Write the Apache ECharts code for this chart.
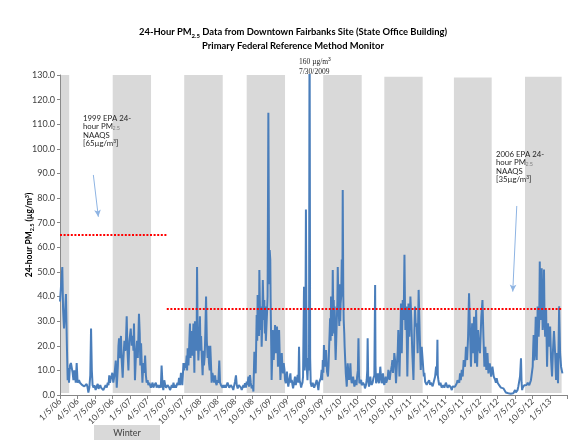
<!DOCTYPE html>
<html>
<head>
<meta charset="utf-8">
<title>Fairbanks PM2.5</title>
<script src="https://cdn.jsdelivr.net/npm/echarts@6/dist/echarts.min.js"></script>
<style>
  html, body { margin: 0; padding: 0; background: #fff; }
  #chart { width: 586px; height: 441px; }
</style>
</head>
<body>
<div id="chart"></div>
<script>
// x values are days counted from 1/5/06 (first sample)
const QUARTER = 365.25 / 4;
const tickLabels = [
  '1/5/06', '4/5/06', '7/5/06', '10/5/06', '1/5/07', '4/5/07', '7/5/07', '10/5/07',
  '1/5/08', '4/5/08', '7/5/08', '10/5/08', '1/5/09', '4/5/09', '7/5/09', '10/5/09',
  '1/5/10', '4/5/10', '7/5/10', '10/5/10', '1/5/11', '4/5/11', '7/5/11', '10/5/11',
  '1/5/12', '4/5/12', '7/5/12', '10/5/12', '1/5/13'
];

// winter shading (day from / day to / top)
const winterFrom = [5, 275, 648, 974, 1373, 1692, 2055, 2426];
const winterTo = [48, 475, 849, 1174, 1574, 1892, 2252, 2617];
const winterTop = [130, 130, 130, 130, 130, 129.3, 129, 129.3];

// NAAQS lines
const naaqsLevel = [65, 35];
const naaqsFrom = [0, 557];
const naaqsTo = [557, 2617];

// 24-hour PM2.5 samples (day, ug/m3)
const sampleDay = [
  0, 6, 12, 16, 21, 26, 31, 36, 40, 44, 47, 52, 57, 61, 66, 70, 75, 78, 82, 87, 92, 99, 104, 110, 116, 122, 127, 131, 139, 144,
  148, 153, 158, 162, 166, 170, 175, 179, 186, 191, 197, 201, 205, 210, 214, 220, 226, 232, 238, 244, 249, 253, 257, 261, 266, 270, 273, 278, 284, 291,
  296, 302, 305, 308, 312, 318, 322, 327, 331, 336, 340, 343, 348, 352, 357, 362, 365, 369, 374, 379, 383, 386, 391, 395, 398, 402, 406, 409, 412, 416,
  419, 423, 427, 430, 435, 440, 444, 448, 452, 457, 461, 466, 470, 474, 478, 483, 487, 492, 496, 500, 504, 509, 513, 518, 522, 526, 530, 535, 539, 544,
  549, 553, 557, 561, 565, 570, 574, 579, 583, 588, 592, 597, 601, 605, 609, 613, 617, 621, 626, 631, 634, 638, 641, 644, 648, 652, 656, 661, 663, 666,
  668, 670, 674, 678, 681, 684, 687, 690, 693, 696, 699, 701, 704, 707, 710, 713, 715, 718, 722, 726, 730, 733, 736, 740, 744, 748, 751, 755, 758, 762,
  766, 770, 773, 777, 781, 784, 788, 791, 795, 800, 804, 809, 813, 817, 821, 826, 831, 835, 840, 844, 848, 852, 856,
  861, 865, 870, 874, 878, 883, 887, 891, 896, 900, 904, 909, 913, 918, 922, 927, 933, 939, 944, 948, 952, 957, 961, 965, 970, 974, 978, 983, 986, 991,
  995, 1000, 1005, 1009, 1014, 1017, 1021, 1026, 1029, 1031, 1035, 1038, 1040, 1045, 1049, 1052, 1055, 1058, 1063, 1066, 1069, 1071, 1074, 1077, 1080, 1083, 1087, 1091, 1094, 1097,
  1099, 1102, 1104, 1107, 1110, 1113, 1115, 1119, 1122, 1125, 1127, 1132, 1135, 1137, 1140, 1143, 1147, 1150, 1154, 1157, 1161, 1164, 1167, 1171, 1174, 1178, 1181, 1184, 1188, 1191,
  1196, 1202, 1205, 1209, 1213, 1216, 1221, 1226, 1230, 1235, 1240, 1244, 1247, 1250, 1254, 1258, 1261, 1265, 1268, 1271, 1273, 1276, 1280, 1283, 1287, 1291, 1295, 1299, 1302, 1305,
  1308, 1313, 1318, 1322, 1326, 1331, 1335, 1339, 1344, 1348, 1352, 1357, 1361, 1365, 1368, 1371, 1374, 1377, 1380, 1383, 1388, 1393, 1398, 1401, 1404, 1407, 1409, 1412, 1414, 1417,
  1420, 1423, 1426, 1428, 1431, 1433, 1436, 1438, 1441, 1444, 1447, 1449, 1452, 1454, 1457, 1459, 1462, 1464, 1467, 1470, 1473, 1475, 1478, 1480, 1483, 1485, 1488, 1491, 1496, 1501,
  1505, 1508, 1512, 1515, 1518, 1522, 1526, 1529, 1533, 1536, 1540, 1543, 1547, 1550, 1554, 1557, 1560, 1562, 1567, 1571, 1574, 1577, 1581, 1584, 1588, 1591, 1596, 1600, 1603, 1605,
  1608, 1612, 1616, 1619, 1622, 1626, 1631, 1635, 1640, 1644, 1646, 1649, 1653, 1658, 1661, 1664, 1668, 1671, 1675, 1678, 1681, 1685, 1689, 1692, 1696, 1699, 1702, 1706, 1710, 1713,
  1717, 1720, 1724, 1727, 1731, 1734, 1737, 1739, 1742, 1744,
  1748, 1753, 1758, 1762, 1765, 1771, 1776, 1779, 1783, 1788, 1793, 1797, 1800, 1802, 1807, 1812, 1815, 1818, 1823, 1828, 1833, 1838, 1844, 1849, 1852, 1856, 1861, 1866, 1871, 1877,
  1882, 1887, 1892, 1898, 1901, 1905, 1909, 1913, 1918, 1922, 1926, 1931, 1935, 1939, 1944, 1948, 1953, 1957, 1962, 1966, 1969, 1971, 1974, 1978, 1981, 1985, 1988, 1991, 1995, 1999,
  2002, 2005, 2009, 2013, 2018, 2022, 2026, 2031, 2035, 2039, 2044, 2048, 2052, 2057, 2061, 2066, 2070, 2074, 2078, 2083, 2087, 2091, 2096, 2101, 2106, 2113, 2118, 2124, 2129, 2134,
  2139, 2144, 2150, 2155, 2160, 2165, 2171, 2176, 2181, 2186, 2191, 2198, 2204, 2209, 2214, 2219, 2224, 2230, 2235, 2242, 2249, 2256, 2263, 2270, 2274, 2278, 2283, 2287, 2291, 2296,
  2300, 2304, 2309, 2313, 2318, 2322, 2326, 2331, 2335, 2339, 2344, 2348, 2352, 2357, 2361, 2365, 2370, 2374, 2378, 2383, 2387, 2391, 2396, 2400, 2405, 2408, 2411, 2414, 2418, 2422,
  2426, 2431, 2435, 2440, 2444, 2448, 2452, 2457, 2461, 2466, 2469, 2471, 2474, 2477, 2482, 2485, 2487, 2492, 2497, 2500, 2503, 2505, 2508, 2511, 2513, 2516, 2518, 2522, 2525, 2528,
  2531, 2536, 2541, 2546, 2551, 2557, 2562, 2567, 2572, 2577, 2583, 2588, 2593, 2598, 2604, 2609, 2614, 2621
];
const pm25 = [
  38, 45, 52, 35, 27, 33, 41, 20, 6, 11, 5, 12, 13, 13, 9, 6, 10, 9, 5, 13, 5, 6, 5, 5.5, 4, 4, 3.5, 4, 4.5, 3,
  1, 3, 8, 27, 10, 4, 3, 4, 2, 3.5, 4.5, 2.5, 3, 4, 3, 2.5, 2, 3, 4, 3, 5, 4, 8, 5, 7, 8, 9, 5, 8, 14,
  3, 12, 20, 23, 15, 24, 14, 7, 15, 22, 18, 19, 32, 18, 10, 22, 24, 27, 20, 24, 18, 29, 6, 14, 18, 22, 15, 24, 33, 25,
  12, 21, 11, 5, 13, 9, 16, 8, 5, 6, 4, 5, 4, 3, 3, 5, 3, 4, 4, 5, 3, 4, 4, 3, 4, 3, 12, 4, 2, 6,
  4, 3, 3, 4, 4, 3, 2, 3, 4, 3, 5, 3, 4, 3, 4, 5, 4, 7, 4, 9, 7, 4, 8, 13, 10, 13, 11, 16, 10, 19,
  14, 12, 20, 29, 15, 22, 26, 16, 22, 29, 18, 9, 30, 20, 18, 24, 52, 25, 14, 22, 32, 18, 24, 15, 8, 18, 12, 16, 25, 40,
  22, 15, 20, 13, 10, 20, 12, 5, 9, 7, 5, 8, 5, 4, 6, 5, 14, 5, 4, 4, 3, 4, 3,
  4, 3, 3.4, 5, 5, 3, 2.7, 4, 4, 3, 2, 4, 5.4, 8, 4, 2.7, 4, 3.4, 3, 2, 3, 4, 3, 4.8, 3, 5.4, 4, 7.5, 3.4, 8.1,
  5, 2.7, 4, 1.4, 17.6, 10, 8.8, 32.5, 22, 40.6, 30.5, 24, 50.8, 26.4, 35.9, 19.6, 28, 46.7, 30.5, 38.6, 25, 35.9, 22, 27.8, 33.2, 40, 114.7, 45, 58.9, 54.9,
  37.2, 20, 6.1, 15, 26.4, 20, 14.2, 22, 28.4, 22, 17, 27.8, 20, 11.5, 18, 26.4, 14, 6.1, 12, 17, 10, 8.8, 13, 10.2, 6, 4.8, 7, 9.5, 5, 3.4,
  6, 8.8, 5, 6.1, 4, 2.7, 5, 7.5, 4, 3.4, 8.1, 5, 19.6, 6, 4.8, 3, 4.1, 5, 7.5, 8, 44, 10, 20, 75.4, 12, 6, 15, 10, 160, 15,
  4.8, 3.4, 5, 5.4, 3, 4.1, 5, 6.1, 4, 2, 5, 4.8, 7, 10.2, 6, 14.2, 9, 20.3, 15, 11.5, 18.3, 9.5, 7.5, 12, 19.6, 26, 31.2, 22, 40, 30.5,
  24, 50.8, 30, 38.6, 25, 35.9, 20, 14.2, 22, 30.5, 38, 52, 40, 34.5, 28, 45, 30, 37.2, 40, 55, 40, 83.3, 40, 30.5, 25, 19.6, 14, 8.8, 3.4, 12.9,
  8, 6.1, 9, 12.9, 7, 4.8, 6, 7.5, 5, 3.4, 5, 6.1, 4, 7.5, 10, 23, 8, 4.8, 5, 6.1, 4, 3.4, 5, 4.8, 4, 2.7, 4, 6.1, 10, 23,
  6, 3.4, 5, 7.5, 5, 4.1, 5, 6.8, 8, 44.7, 12, 4.8, 6, 8.8, 6, 4.8, 8, 11.5, 7, 4.8, 6, 8.8, 5, 4.1, 6, 7.5, 5, 4.8, 7, 10.2,
  8, 6.1, 9, 10.2, 12, 14.2, 9, 11.5, 13, 17,
  14.2, 4.8, 12.9, 18, 26.4, 7.5, 23.7, 37.2, 17, 38.6, 30.5, 57, 35, 26.4, 35.9, 7.5, 20, 37.2, 23.7, 40, 30.5, 17, 6.1, 26.4, 35.9, 27.8, 29.1, 17, 42.7, 23.7,
  10.2, 19.6, 14.2, 7.5, 9, 5.4, 6, 4.1, 5, 4.8, 6, 4.1, 5, 5.4, 3.5, 4.8, 5, 7.5, 11.5, 8, 22.4, 8, 6.1, 4, 3.4, 5, 4.8, 3, 2.7, 4,
  4.1, 3, 3.4, 5, 4.8, 3, 2.7, 4, 4.1, 3, 2, 3.5, 4.1, 3, 3.4, 4, 4.8, 6, 6.8, 5, 8.8, 6, 10.2, 7.5, 14.2, 11.5, 19.6, 14.2, 23.7, 41.3,
  26.4, 11.5, 29.1, 17, 31.8, 12.9, 34.5, 11.5, 26.4, 19.6, 17, 31.8, 38.6, 23.7, 11.5, 19.6, 10.2, 17, 8.8, 12.9, 7.5, 11.5, 7.5, 6.1, 5, 6.8, 5, 5.4, 4, 4.1,
  3, 3.4, 2.5, 2.7, 2, 2, 1, 1.4, 1, 0.7, 1.5, 1.4, 0.5, 0, 1, 0.7, 1.5, 2, 1, 0.7, 2, 3.4, 4, 7.5, 14.9, 5, 2, 3, 3.4, 4,
  4.8, 3.5, 4.1, 5, 5.4, 4, 4.8, 6, 6.8, 11.5, 20, 24.4, 14, 17, 31.8, 20, 14.2, 35.9, 23.7, 30, 54.2, 40, 30.5, 35, 51.5, 35, 26.4, 34, 51, 30,
  23.7, 34.5, 11.5, 29.1, 19.6, 27.8, 14.2, 7.5, 18.3, 26, 17, 6.1, 17, 4.8, 36, 17, 11.5, 8.8
];

const font = 'Lato';
const noteRich = {
  sub: { fontSize: 5, verticalAlign: 'bottom', lineHeight: 8.5, fill: '#7f7f7f' },
  sup: { fontSize: 5, verticalAlign: 'top', lineHeight: 8.5 }
};

const pmData = sampleDay.map((d, i) => [d, pm25[i]]);
const winterAreas = winterFrom.map((d, i) => [
  { xAxis: d, yAxis: 0.8 },
  { xAxis: winterTo[i], yAxis: winterTop[i] }
]);
const naaqsLines = naaqsLevel.map((v, i) => [
  { coord: [naaqsFrom[i], v] },
  { coord: [naaqsTo[i], v] }
]);

var myChart = echarts.init(document.getElementById('chart'));
myChart.setOption({
  animation: false,
  title: {
    text: '24-Hour PM{sub|2.5} Data from Downtown Fairbanks Site (State Office Building)\nPrimary Federal Reference Method Monitor',
    left: 'center',
    top: 20,
    textStyle: {
      fontFamily: font, fontSize: 9.4, fontWeight: 'bold', color: '#000', lineHeight: 14,
      rich: { sub: { fontSize: 6, fontWeight: 'bold', verticalAlign: 'bottom', lineHeight: 12, fontFamily: font } }
    }
  },
  grid: { left: 60, right: 19, top: 75, bottom: 46 },
  xAxis: {
    type: 'value',
    min: 0,
    max: 2645,
    interval: QUARTER,
    axisLine: { lineStyle: { color: '#868686' } },
    axisTick: { show: true, length: 4, lineStyle: { color: '#868686' } },
    axisLabel: {
      rotate: 45, fontFamily: font, fontSize: 8.5, color: '#404040', margin: 5,
      formatter: v => tickLabels[Math.round(v / QUARTER)] || ''
    },
    splitLine: { show: false }
  },
  yAxis: {
    type: 'value',
    min: 0,
    max: 130,
    interval: 10,
    name: '24-hour PM{sub|2.5} (µg/m{sup|3})',
    nameLocation: 'middle',
    nameRotate: 90,
    nameGap: 25,
    nameMoveOverlap: false,
    nameTextStyle: {
      fontFamily: font, fontSize: 8.5, fontWeight: 'bold', color: '#000',
      rich: {
        sub: { fontSize: 5.5, fontWeight: 'bold', verticalAlign: 'bottom', lineHeight: 11 },
        sup: { fontSize: 5.5, fontWeight: 'bold', verticalAlign: 'top', lineHeight: 11 }
      }
    },
    axisLine: { show: true, lineStyle: { color: '#868686' } },
    axisTick: { show: true, length: 3, lineStyle: { color: '#868686' } },
    axisLabel: { fontFamily: font, fontSize: 9, color: '#404040', margin: 5, formatter: v => v.toFixed(1) },
    splitLine: { show: false }
  },
  series: [
    {
      name: 'Winter',
      type: 'line',
      data: [],
      z: 1,
      silent: true,
      markArea: { silent: true, itemStyle: { color: '#d9d9d9' }, data: winterAreas }
    },
    {
      name: 'PM2.5',
      type: 'line',
      data: pmData,
      z: 3,
      showSymbol: false,
      clip: true,
      lineStyle: { color: '#4a7ebb', width: 2 },
      itemStyle: { color: '#4a7ebb' }
    },
    {
      name: 'NAAQS',
      type: 'line',
      data: [],
      z: 4,
      markLine: {
        silent: true,
        symbol: ['none', 'none'],
        label: { show: false },
        lineStyle: { color: '#ff0000', width: 2, type: [2, 1.6] },
        data: naaqsLines
      }
    },
    {
      name: 'Arrows',
      type: 'line',
      data: [],
      z: 4,
      markLine: {
        silent: true,
        symbol: ['none', 'arrow'],
        symbolSize: [5, 7],
        label: { show: false },
        lineStyle: { color: '#8eb4e3', width: 1, type: 'solid' },
        data: [
          [{ coord: [174, 89.4] }, { coord: [200, 72.4] }],
          [{ coord: [2383, 76.8] }, { coord: [2362, 42] }]
        ]
      }
    }
  ],
  graphic: [
    {
      type: 'text', left: 83, top: 114, z: 20,
      style: {
        text: '1999 EPA 24-\nhour PM{sub|2.5}\nNAAQS\n[65µg/m{sup|3}]',
        fontFamily: font, fontSize: 7.8, lineHeight: 8.5, fill: '#262626', rich: noteRich
      }
    },
    {
      type: 'text', left: 496, top: 150, z: 20,
      style: {
        text: '2006 EPA 24-\nhour PM{sub|2.5}\nNAAQS\n[35µg/m{sup|3}]',
        fontFamily: font, fontSize: 7.8, lineHeight: 8.5, fill: '#262626', rich: noteRich
      }
    },
    {
      type: 'text', left: 299, top: 57, z: 20,
      style: {
        text: '160 µg/m{sup|3}\n7/30/2009',
        fontFamily: 'Liberation Serif', fontSize: 7.5, lineHeight: 10, fill: '#262626',
        rich: { sup: { fontSize: 5, verticalAlign: 'top', lineHeight: 10 } }
      }
    },
    {
      type: 'group', left: 94, top: 425, z: 20,
      children: [
        { type: 'rect', shape: { x: 0, y: 0, width: 66, height: 15 }, style: { fill: '#d9d9d9' } },
        { type: 'text', x: 33, y: 8, style: { text: 'Winter', align: 'center', verticalAlign: 'middle', fontFamily: font, fontSize: 9, fill: '#404040' } }
      ]
    }
  ]
});
</script>
</body>
</html>
